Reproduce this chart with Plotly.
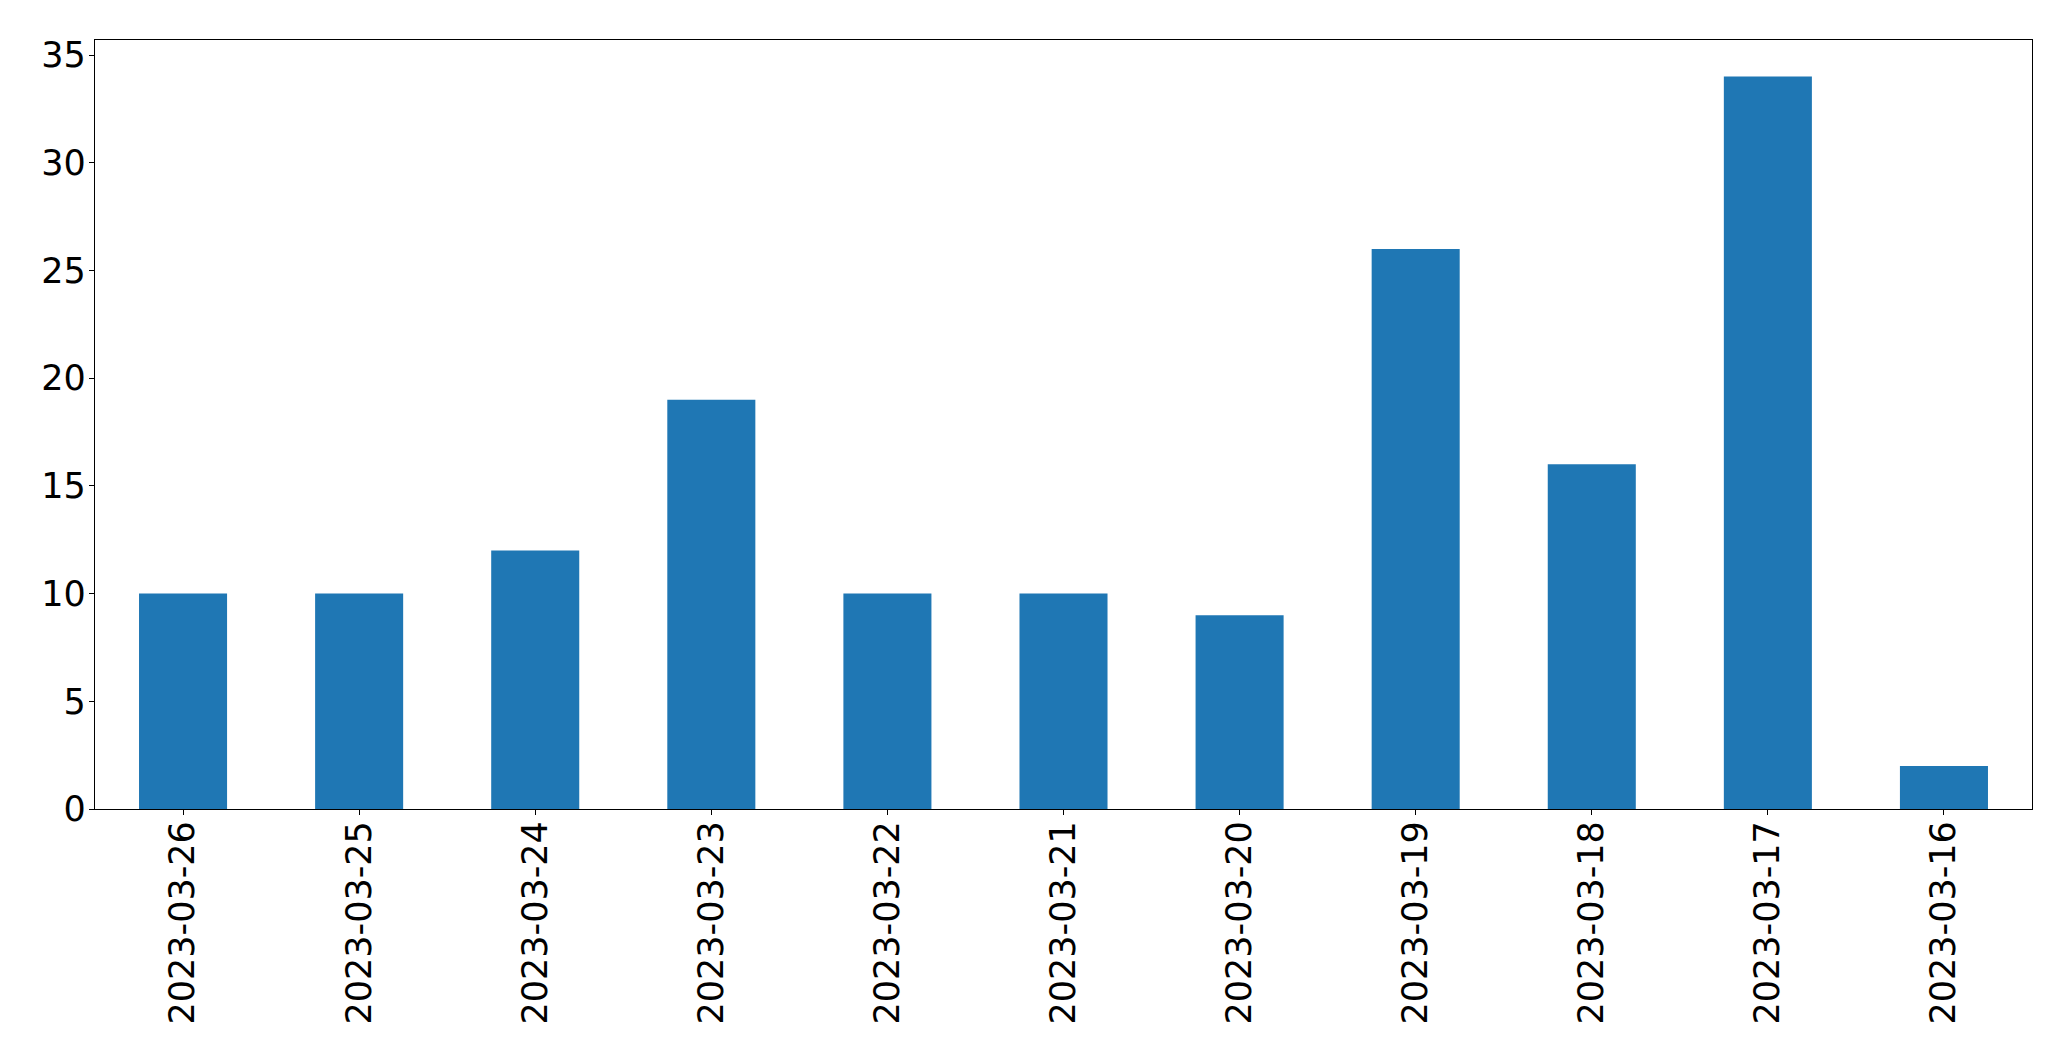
import plotly.graph_objects as go

dates = ["2023-03-26", "2023-03-25", "2023-03-24", "2023-03-23", "2023-03-22",
         "2023-03-21", "2023-03-20", "2023-03-19", "2023-03-18", "2023-03-17", "2023-03-16"]
counts = [10, 10, 12, 19, 10, 10, 9, 26, 16, 34, 2]
y_ticks = [0, 5, 10, 15, 20, 25, 30, 35]

fig = go.Figure(go.Bar(x=dates, y=counts, width=0.5, marker=dict(color="#1f77b4", line=dict(width=0))))

font = dict(family="DejaVu Sans", size=35, color="black")
fig.update_layout(
    width=2063, height=1053,
    margin=dict(l=86.5, r=39.3, t=31.5, b=252, pad=0),
    paper_bgcolor="white", plot_bgcolor="white",
    showlegend=False,
    font=font,
)
fig.update_xaxes(
    type="category", range=[-0.5, 10.5], tickangle=-90,
    showline=True, mirror=True, linecolor="black", linewidth=1.3,
    ticks="outside", ticklen=5, tickcolor="black", tickwidth=1.3,
    showgrid=False, zeroline=False, tickfont=font, ticklabelstandoff=-8,
)
fig.update_yaxes(
    range=[0, 35.7], tickvals=y_ticks,
    showline=True, mirror=True, linecolor="black", linewidth=1.3,
    ticks="outside", ticklen=5, tickcolor="black", tickwidth=1.3,
    showgrid=False, zeroline=False, tickfont=font, ticklabelstandoff=-4,
)
fig.write_html("out.html")
